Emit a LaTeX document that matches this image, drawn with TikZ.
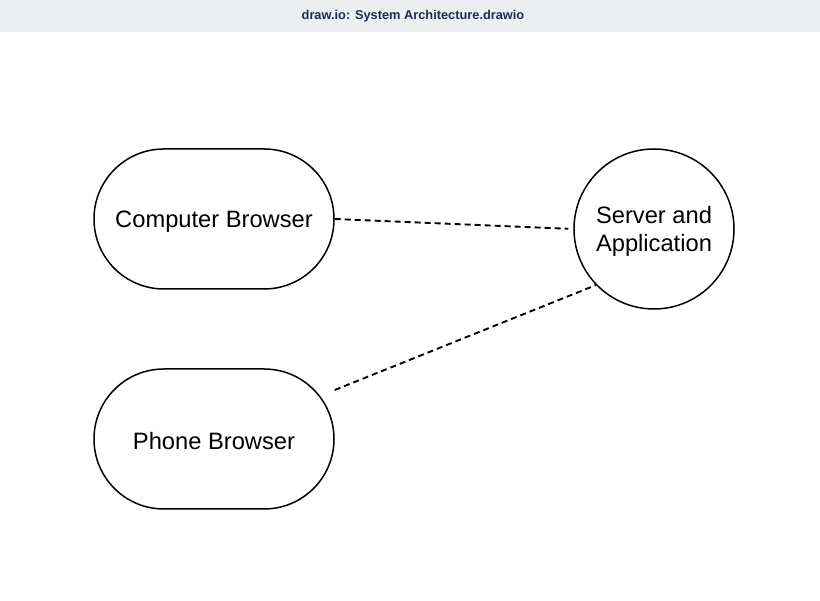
\documentclass[tikz,border=0pt]{standalone}
\usepackage{fontspec}
\setmainfont{Liberation Sans}
\usetikzlibrary{calc}
\definecolor{barbg}{HTML}{ECEEF1}
\definecolor{titlec}{HTML}{1F2B4D}
\newcommand{\lowertext}[2]{\raisebox{-#1}[\height][\depth]{#2}}
\tikzset{
  stadium/.style={draw=black, line width=1.5pt, rounded corners=69.9pt, minimum width=240pt, minimum height=140pt, inner sep=0pt, font=\fontsize{23.7}{27.5}\selectfont},
  roundbox/.style={draw=black, line width=1.5pt, circle, minimum size=160pt, inner sep=0pt, font=\fontsize{23.7}{27.5}\selectfont},
  link/.style={line width=1.9pt, dash pattern=on 6pt off 4pt}
}
\begin{document}
\begin{tikzpicture}[x=1pt,y=1pt]
\useasboundingbox (0,0) rectangle (820,601);
\fill[white] (0,0) rectangle (820,601);
\fill[barbg] (0,569) rectangle (820,601);
\node[font=\fontsize{12.8}{14}\selectfont\bfseries, text=titlec] (title) at (413,585) {draw.io: System Architecture.drawio};
\node[stadium] (cb) at (214,382) {\lowertext{3pt}{Computer Browser}};
\node[stadium] (pb) at (214,162) {\lowertext{2pt}{Phone Browser}};
\node[roundbox] (srv) at (654,372) {\lowertext{3pt}{\begin{tabular}{@{}c@{}}Server and\\Application\end{tabular}}};
\coordinate (pbout) at ($(pb.east)+(0,49)$);
\draw[link, shorten >=5pt] (cb.east) -- (srv.west);
\draw[link] (pbout) -- (srv.224.5);
\end{tikzpicture}
\end{document}
